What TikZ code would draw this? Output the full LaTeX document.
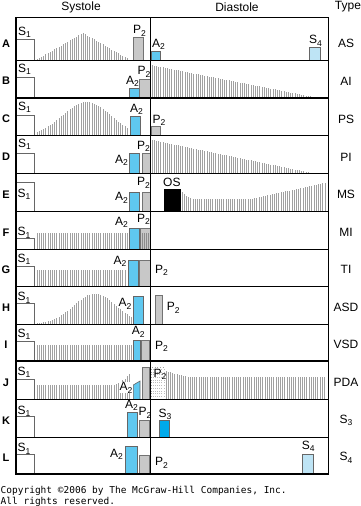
\documentclass[tikz,border=0pt]{standalone}
\usepackage{fontspec}
\setmainfont{Liberation Sans}
\newfontfamily\monof{DejaVu Sans Mono}
\definecolor{murc}{RGB}{160,160,160}
\definecolor{aclr}{RGB}{95,200,240}
\definecolor{pclr}{RGB}{200,200,200}
\definecolor{sthree}{RGB}{0,170,235}
\definecolor{sfour}{RGB}{190,228,245}
\newcommand\lb[2]{#1\raisebox{-2.5pt}{\fontsize{8.5}{8.5}\selectfont #2}}
\newcommand\murm[5]{\foreach \x in {#1,#2,...,#3}{\pgfmathsetmacro\hh{#5}\draw[mur] (\x,#4) -- ++(0,-\hh);}}
\begin{document}
\begin{tikzpicture}[x=1pt,y=-1pt,
  mur/.style={draw=murc,line width=0.75pt},
  sbox/.style={draw=black!60,fill=white,line width=0.6pt},
  abox/.style={draw=black!60,fill=aclr,line width=0.6pt},
  pbox/.style={draw=black!55,fill=pclr,line width=0.6pt},
  s3box/.style={draw=black!60,fill=sthree,line width=0.6pt},
  s4box/.style={draw=black!60,fill=sfour,line width=0.6pt},
  osbox/.style={draw=black,fill=black,line width=0.6pt},
  lab/.style={inner sep=0pt,anchor=south west,font=\fontsize{12}{14}\selectfont},
  title/.style={inner sep=0pt,font=\fontsize{12}{14}\selectfont},
  rowl/.style={inner sep=0pt,font=\fontsize{11}{13}\selectfont\bfseries},
  typel/.style={inner sep=0pt,font=\fontsize{12}{14}\selectfont},
  thin/.style={line width=0.9pt},
  thick/.style={line width=1.8pt},
  copy/.style={inner sep=0pt,anchor=base west,font=\monof\fontsize{9.5}{11}\selectfont}]
\useasboundingbox (0,0) rectangle (361,506);
\fill[white] (0,0) rectangle (361,506);

% ---- murmurs ----
\murm{37}{39.2}{129}{60}{max(0,27*(1-abs(\x-83)/47))}
\murm{152}{154.2}{316}{97.7}{max(0,32.4*(317-\x)/165)}
\murm{37}{39.2}{128}{135.7}{33.7*exp(-((\x-86.7)/34)^2)}
\murm{152}{154.2}{314}{173.7}{max(0,33.7*(315-\x)/163)}
\murm{182}{184.2}{327}{211.3}{(\x<195) ? (12+9*((195-\x)/14)^2) : ((\x<250) ? 12 : (12+17*(\x-250)/77))}
\murm{37}{39.2}{129}{249}{15.7}
\murm{37}{39.2}{127}{286}{16}
\murm{37}{39.2}{132}{324}{30.3*exp(-((\x-95)/30)^2)}
\murm{37}{39.2}{132}{361}{16.3}
\murm{37}{39.2}{130}{399.3}{(\x<110) ? 14 : (14+12*((\x-110)/20)^2)}
\murm{166}{168.2}{326}{399.3}{(\x<190) ? (22+6*(190-\x)/24) : 22}
\foreach \x in {153,155.2,...,164}{\draw[murc!70,line width=0.7pt,dotted] (\x,399.3) -- (\x,368);}
\draw[murc,line width=0.7pt,dotted] (151.5,399.3) -- (151.5,367.3) -- (165,367.3);

% ---- boxes ----
\draw[sbox] (16,39) rectangle (34,60);
\draw[pbox] (133,37.7) rectangle (143.5,60);
\draw[abox] (151,51) rectangle (160.3,60);
\draw[s4box] (309.3,47.7) rectangle (320.3,60);
\draw[sbox] (16,77.3) rectangle (34,97.7);
\draw[abox] (129.3,88.3) rectangle (139.3,97.7);
\draw[pbox] (139.3,79) rectangle (150,97.7);
\draw[sbox] (16,115) rectangle (34,135.7);
\draw[abox] (130,116.3) rectangle (140,135.7);
\draw[pbox] (151,126.7) rectangle (160,135.7);
\draw[sbox] (16,153) rectangle (34,173.7);
\draw[abox] (129.3,153.3) rectangle (139.3,173.7);
\draw[pbox] (142.3,153.7) rectangle (150,173.7);
\draw[sbox] (16,182.7) rectangle (34,211.3);
\draw[abox] (129.3,192.7) rectangle (139.3,211.3);
\draw[pbox] (142.3,192.7) rectangle (150,211.3);
\draw[osbox] (164.3,189) rectangle (180,211.3);
\draw[sbox] (16,238) rectangle (34,249);
\draw[abox] (129.7,228.3) rectangle (139.3,249);
\draw[pbox] (140.7,228.3) rectangle (150,249);
\foreach \x in {142,144.2,...,149}{\draw[draw=black!45,line width=0.8pt] (\x,249) -- ++(0,-15.7);}
\draw[sbox] (16,266.3) rectangle (34,286);
\draw[abox] (128,260.7) rectangle (138,286);
\draw[pbox] (139.3,260.7) rectangle (150,286);
\draw[sbox] (16,303.3) rectangle (34,324);
\draw[abox] (133.7,296.7) rectangle (143.7,324);
\draw[pbox] (155.7,295.3) rectangle (162.7,324);
\draw[sbox] (16,341.3) rectangle (34,361);
\draw[abox] (133.3,340) rectangle (140,361);
\draw[pbox] (141.7,340) rectangle (149.3,361);
\draw[sbox] (16,379.3) rectangle (34,399.3);
\draw[abox] (133.3,399.3) -- (133.3,385) -- (140,381) -- (140,399.3) -- cycle;
\draw[pbox] (142.3,367.3) rectangle (149.5,399.3);
\draw[sbox] (16,416.7) rectangle (34,437);
\draw[abox] (127.3,412.3) rectangle (137.3,437);
\draw[pbox] (139.3,420) rectangle (149.3,437);
\draw[s3box] (159,420) rectangle (169.3,437);
\draw[sbox] (16,454.3) rectangle (34,474.3);
\draw[abox] (125.3,446.7) rectangle (137.3,474.3);
\draw[pbox] (139.3,455) rectangle (149.3,474.3);
\draw[s4box] (302.7,454.3) rectangle (313.3,474.3);

% ---- frame ----
\draw[thin] (16,17) -- (328.3,17);
\foreach \y in {60,135.7,173.7,211.3,249,286,324,399.3,437}{\draw[thin] (16,\y) -- (328.3,\y);}
\foreach \y in {97.7,361,474.3}{\draw[thick] (16,\y) -- (328.3,\y);}
\draw[line width=1.3pt] (16,17) -- (16,475.2);
\draw[line width=1.1pt] (328.3,17) -- (328.3,475.2);
\draw[line width=1.2pt] (150.3,17) -- (150.3,475.2);

% ---- labels ----
\node[lab] (aS1) at (18,38) {\lb{S}{1}};
\node[lab] (aP2) at (133,36.5) {\lb{P}{2}};
\node[lab] (aA2) at (152,50) {\lb{A}{2}};
\node[lab] (aS4) at (309,46.5) {\lb{S}{4}};
\node[lab] (bS1) at (18,75) {\lb{S}{1}};
\node[lab] (bA2) at (126,86.7) {\lb{A}{2}};
\node[lab] (bP2) at (137.5,77.3) {\lb{P}{2}};
\node[lab] (cS1) at (18,113) {\lb{S}{1}};
\node[lab] (cA2) at (130,115) {\lb{A}{2}};
\node[lab] (cP2) at (152.5,126) {\lb{P}{2}};
\node[lab] (dS1) at (18,150) {\lb{S}{1}};
\node[lab] (dA2) at (115,165.7) {\lb{A}{2}};
\node[lab] (dP2) at (137,151.7) {\lb{P}{2}};
\node[lab] (eS1) at (17.5,200) {\lb{S}{1}};
\node[lab] (eA2) at (115,203.3) {\lb{A}{2}};
\node[lab] (eP2) at (137,188.3) {\lb{P}{2}};
\node[lab] (eOS) at (163,186.7) {OS};
\node[lab] (fS1) at (17.5,238.3) {\lb{S}{1}};
\node[lab] (fA2) at (115,227.7) {\lb{A}{2}};
\node[lab] (fP2) at (137,225) {\lb{P}{2}};
\node[lab] (gS1) at (17.5,265) {\lb{S}{1}};
\node[lab] (gA2) at (113.3,266.7) {\lb{A}{2}};
\node[lab] (gP2) at (155,276) {\lb{P}{2}};
\node[lab] (hS1) at (17.5,303.3) {\lb{S}{1}};
\node[lab] (hA2) at (118.3,309.3) {\lb{A}{2}};
\node[lab] (hP2) at (166.7,313.3) {\lb{P}{2}};
\node[lab] (iS1) at (17.5,340) {\lb{S}{1}};
\node[lab] (iA2) at (131.7,337.3) {\lb{A}{2}};
\node[lab] (iP2) at (155,351.7) {\lb{P}{2}};
\node[lab] (jS1) at (17.5,378) {\lb{S}{1}};
\node[lab,fill=white] (jA2) at (119.3,393.3) {\lb{A}{2}};
\node[lab] (jP2) at (153.3,380) {\lb{P}{2}};
\node[lab] (kS1) at (17.5,416.7) {\lb{S}{1}};
\node[lab] (kA2) at (125,411) {\lb{A}{2}};
\node[lab] (kP2) at (138.3,418.3) {\lb{P}{2}};
\node[lab] (kS3) at (158.3,420) {\lb{S}{3}};
\node[lab] (lS1) at (17.5,454.3) {\lb{S}{1}};
\node[lab] (lA2) at (110,460) {\lb{A}{2}};
\node[lab] (lP2) at (155,468.3) {\lb{P}{2}};
\node[lab] (lS4) at (301.7,451.7) {\lb{S}{4}};

\node[title] (tsys) at (81,7) {Systole};
\node[title] (tdia) at (237,7) {Diastole};
\node[title] (ttyp) at (348,7) {Type};

\foreach \n/\b/\L/\T in {1/60/A/AS,2/97.7/B/AI,3/135.7/C/PS,4/173.7/D/PI,5/211.3/E/MS,6/249/F/MI,7/286/G/TI,8/324/H/ASD,9/361/I/VSD,10/399.3/J/PDA,11/437/K/\lb{S}{3},12/474.3/L/\lb{S}{4}}{
  \node[rowl] (row\n) at (6,\b-16.5) {\L};
  \node[typel] (typ\n) at (346,\b-16.5) {\T};
}

\node[copy] (cp1) at (0.5,493.3) {Copyright ©2006 by The McGraw-Hill Companies, Inc.};
\node[copy] (cp2) at (0.5,504) {All rights reserved.};
\end{tikzpicture}
\end{document}
